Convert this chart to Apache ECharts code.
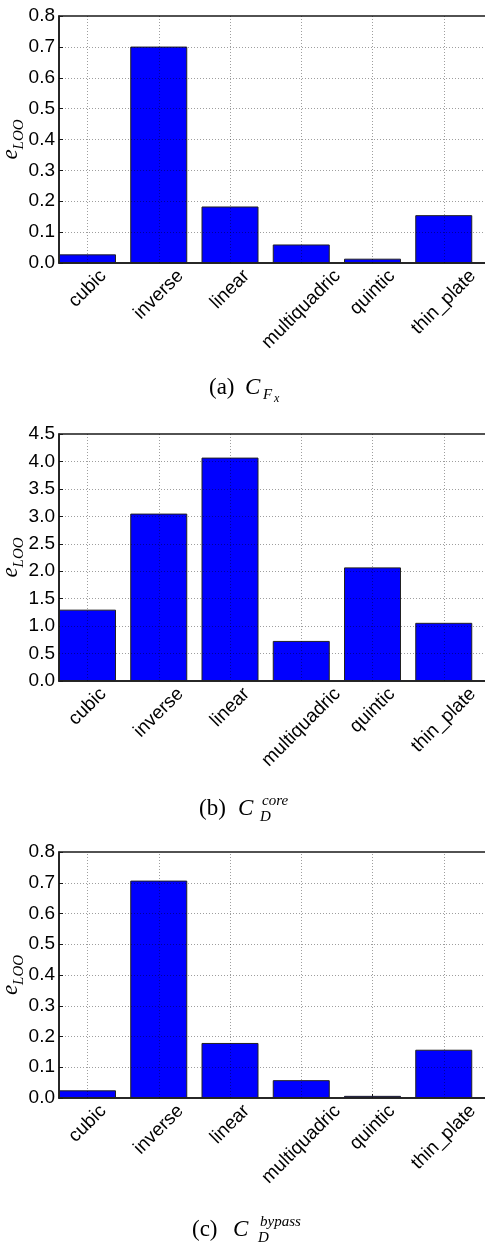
<!DOCTYPE html>
<html>
<head>
<meta charset="utf-8">
<script src="https://cdn.jsdelivr.net/npm/echarts@6/dist/echarts.min.js"></script>
<style>
html,body{margin:0;padding:0;background:#fff;}
#chart{width:485px;height:1248px;}
</style>
</head>
<body>
<div id="chart"></div>
<script>
const categories = ['cubic', 'inverse', 'linear', 'multiquadric', 'quintic', 'thin_plate'];
const valuesA = [0.028, 0.701, 0.183, 0.060, 0.014, 0.155];
const valuesB = [1.30, 3.05, 4.07, 0.73, 2.07, 1.06];
const valuesC = [0.025, 0.707, 0.179, 0.058, 0.007, 0.157];
const ticksA = [0.0, 0.1, 0.2, 0.3, 0.4, 0.5, 0.6, 0.7, 0.8];
const ticksB = [0.0, 0.5, 1.0, 1.5, 2.0, 2.5, 3.0, 3.5, 4.0, 4.5];
const ticksC = [0.0, 0.1, 0.2, 0.3, 0.4, 0.5, 0.6, 0.7, 0.8];

const SANS = '"Liberation Sans", Arial, sans-serif';
const SERIF = '"Liberation Serif", "DejaVu Serif", serif';
const LABEL_SIZE = 19;

// measure label widths so rotated labels can be centred on their ticks (matplotlib style)
const mctx = document.createElement('canvas').getContext('2d');
mctx.font = LABEL_SIZE + 'px ' + SANS;
const labelRich = {};
categories.forEach((c, i) => {
  const L = mctx.measureText(c).width;
  labelRich['l' + i] = { padding: [L / 2, L / 2, 0, 0], fontSize: LABEL_SIZE, fontFamily: SANS, color: '#000' };
});

const chart = echarts.init(document.getElementById('chart'), null, { renderer: 'canvas' });

const grids = [
  { left: 59, top: 16, width: 456, height: 247 },
  { left: 59, top: 434, width: 456, height: 247 },
  { left: 59, top: 852, width: 456, height: 246 }
];
const panels = [
  { values: valuesA, ticks: ticksA },
  { values: valuesB, ticks: ticksB },
  { values: valuesC, ticks: ticksC }
];

const gridLineStyle = { type: [1, 2], color: 'rgba(0,0,0,0.38)', width: 1 };

const option = {
  animation: false,
  backgroundColor: '#fff',
  grid: grids.map(g => Object.assign({
    show: true, borderColor: '#1a1a1a', borderWidth: 1.5, backgroundColor: 'transparent',
    containLabel: false, outerBoundsMode: 'none'
  }, g)),
  xAxis: panels.map((p, i) => ({
    type: 'value',
    gridIndex: i,
    min: -0.4,
    max: 6,
    splitLine: { show: false },
    axisLine: { show: true, onZero: false, lineStyle: { color: '#1a1a1a', width: 1.5 } },
    axisTick: { show: true, inside: true, length: 4, customValues: categories.map((c, k) => k), lineStyle: { color: '#1a1a1a' } },
    axisLabel: {
      show: true,
      customValues: categories.map((c, k) => k),
      rotate: 45,
      align: 'center',
      verticalAlign: 'middle',
      margin: 10,
      fontSize: LABEL_SIZE,
      fontFamily: SANS,
      color: '#000',
      formatter: v => '{l' + v + '|' + categories[v] + '}',
      rich: labelRich
    }
  })),
  yAxis: panels.map((p, i) => ({
    type: 'value',
    gridIndex: i,
    min: p.ticks[0],
    max: p.ticks[p.ticks.length - 1],
    interval: p.ticks[1] - p.ticks[0],
    splitLine: { show: false },
    axisLine: { show: true, onZero: false, lineStyle: { color: '#1a1a1a', width: 1.5 } },
    axisTick: { show: true, inside: true, length: 4, lineStyle: { color: '#1a1a1a' } },
    axisLabel: {
      margin: 4,
      fontSize: LABEL_SIZE,
      fontFamily: SANS,
      color: '#000',
      formatter: v => v.toFixed(1)
    },
    name: '{e|e}{s|LOO}',
    nameLocation: 'middle',
    nameRotate: 90,
    nameGap: 32,
    nameMoveOverlap: false,
    nameTextStyle: {
      rich: {
        e: { fontFamily: SERIF, fontStyle: 'italic', fontSize: 23, lineHeight: 28, verticalAlign: 'top', color: '#000' },
        s: { fontFamily: SERIF, fontStyle: 'italic', fontSize: 15, lineHeight: 15, verticalAlign: 'bottom', color: '#000' }
      }
    }
  })),
  series: panels.map((p, i) => ({
    type: 'bar',
    xAxisIndex: i,
    yAxisIndex: i,
    data: p.values.map((v, k) => [k, v]),
    barWidth: 57,
    itemStyle: { color: '#0000ff', borderColor: '#222', borderWidth: 1 },
    markLine: {
      silent: true,
      symbol: 'none',
      label: { show: false },
      lineStyle: gridLineStyle,
      data: categories.map((c, k) => ({ xAxis: k }))
        .concat(p.ticks.slice(1, -1).map(t => ({ yAxis: t })))
    }
  })),
  graphic: [
    // (a)
    { type: 'text', x: 209, y: 388, style: { text: '(a)', font: '23px ' + SERIF, fill: '#000', verticalAlign: 'middle' } },
    { type: 'text', x: 245, y: 388, style: { text: 'C', font: 'italic 23px ' + SERIF, fill: '#000', verticalAlign: 'middle' } },
    { type: 'text', x: 263, y: 395, style: { text: 'F', font: 'italic 15px ' + SERIF, fill: '#000', verticalAlign: 'middle' } },
    { type: 'text', x: 274, y: 399, style: { text: 'x', font: 'italic 12px ' + SERIF, fill: '#000', verticalAlign: 'middle' } },
    // (b)
    { type: 'text', x: 199, y: 809, style: { text: '(b)', font: '23px ' + SERIF, fill: '#000', verticalAlign: 'middle' } },
    { type: 'text', x: 238, y: 809, style: { text: 'C', font: 'italic 23px ' + SERIF, fill: '#000', verticalAlign: 'middle' } },
    { type: 'text', x: 262, y: 801, style: { text: 'core', font: 'italic 15px ' + SERIF, fill: '#000', verticalAlign: 'middle' } },
    { type: 'text', x: 260, y: 817, style: { text: 'D', font: 'italic 15px ' + SERIF, fill: '#000', verticalAlign: 'middle' } },
    // (c)
    { type: 'text', x: 192, y: 1230, style: { text: '(c)', font: '23px ' + SERIF, fill: '#000', verticalAlign: 'middle' } },
    { type: 'text', x: 233, y: 1230, style: { text: 'C', font: 'italic 23px ' + SERIF, fill: '#000', verticalAlign: 'middle' } },
    { type: 'text', x: 260, y: 1222, style: { text: 'bypass', font: 'italic 15px ' + SERIF, fill: '#000', verticalAlign: 'middle' } },
    { type: 'text', x: 258, y: 1238, style: { text: 'D', font: 'italic 15px ' + SERIF, fill: '#000', verticalAlign: 'middle' } }
  ]
};

chart.setOption(option);
</script>
</body>
</html>
